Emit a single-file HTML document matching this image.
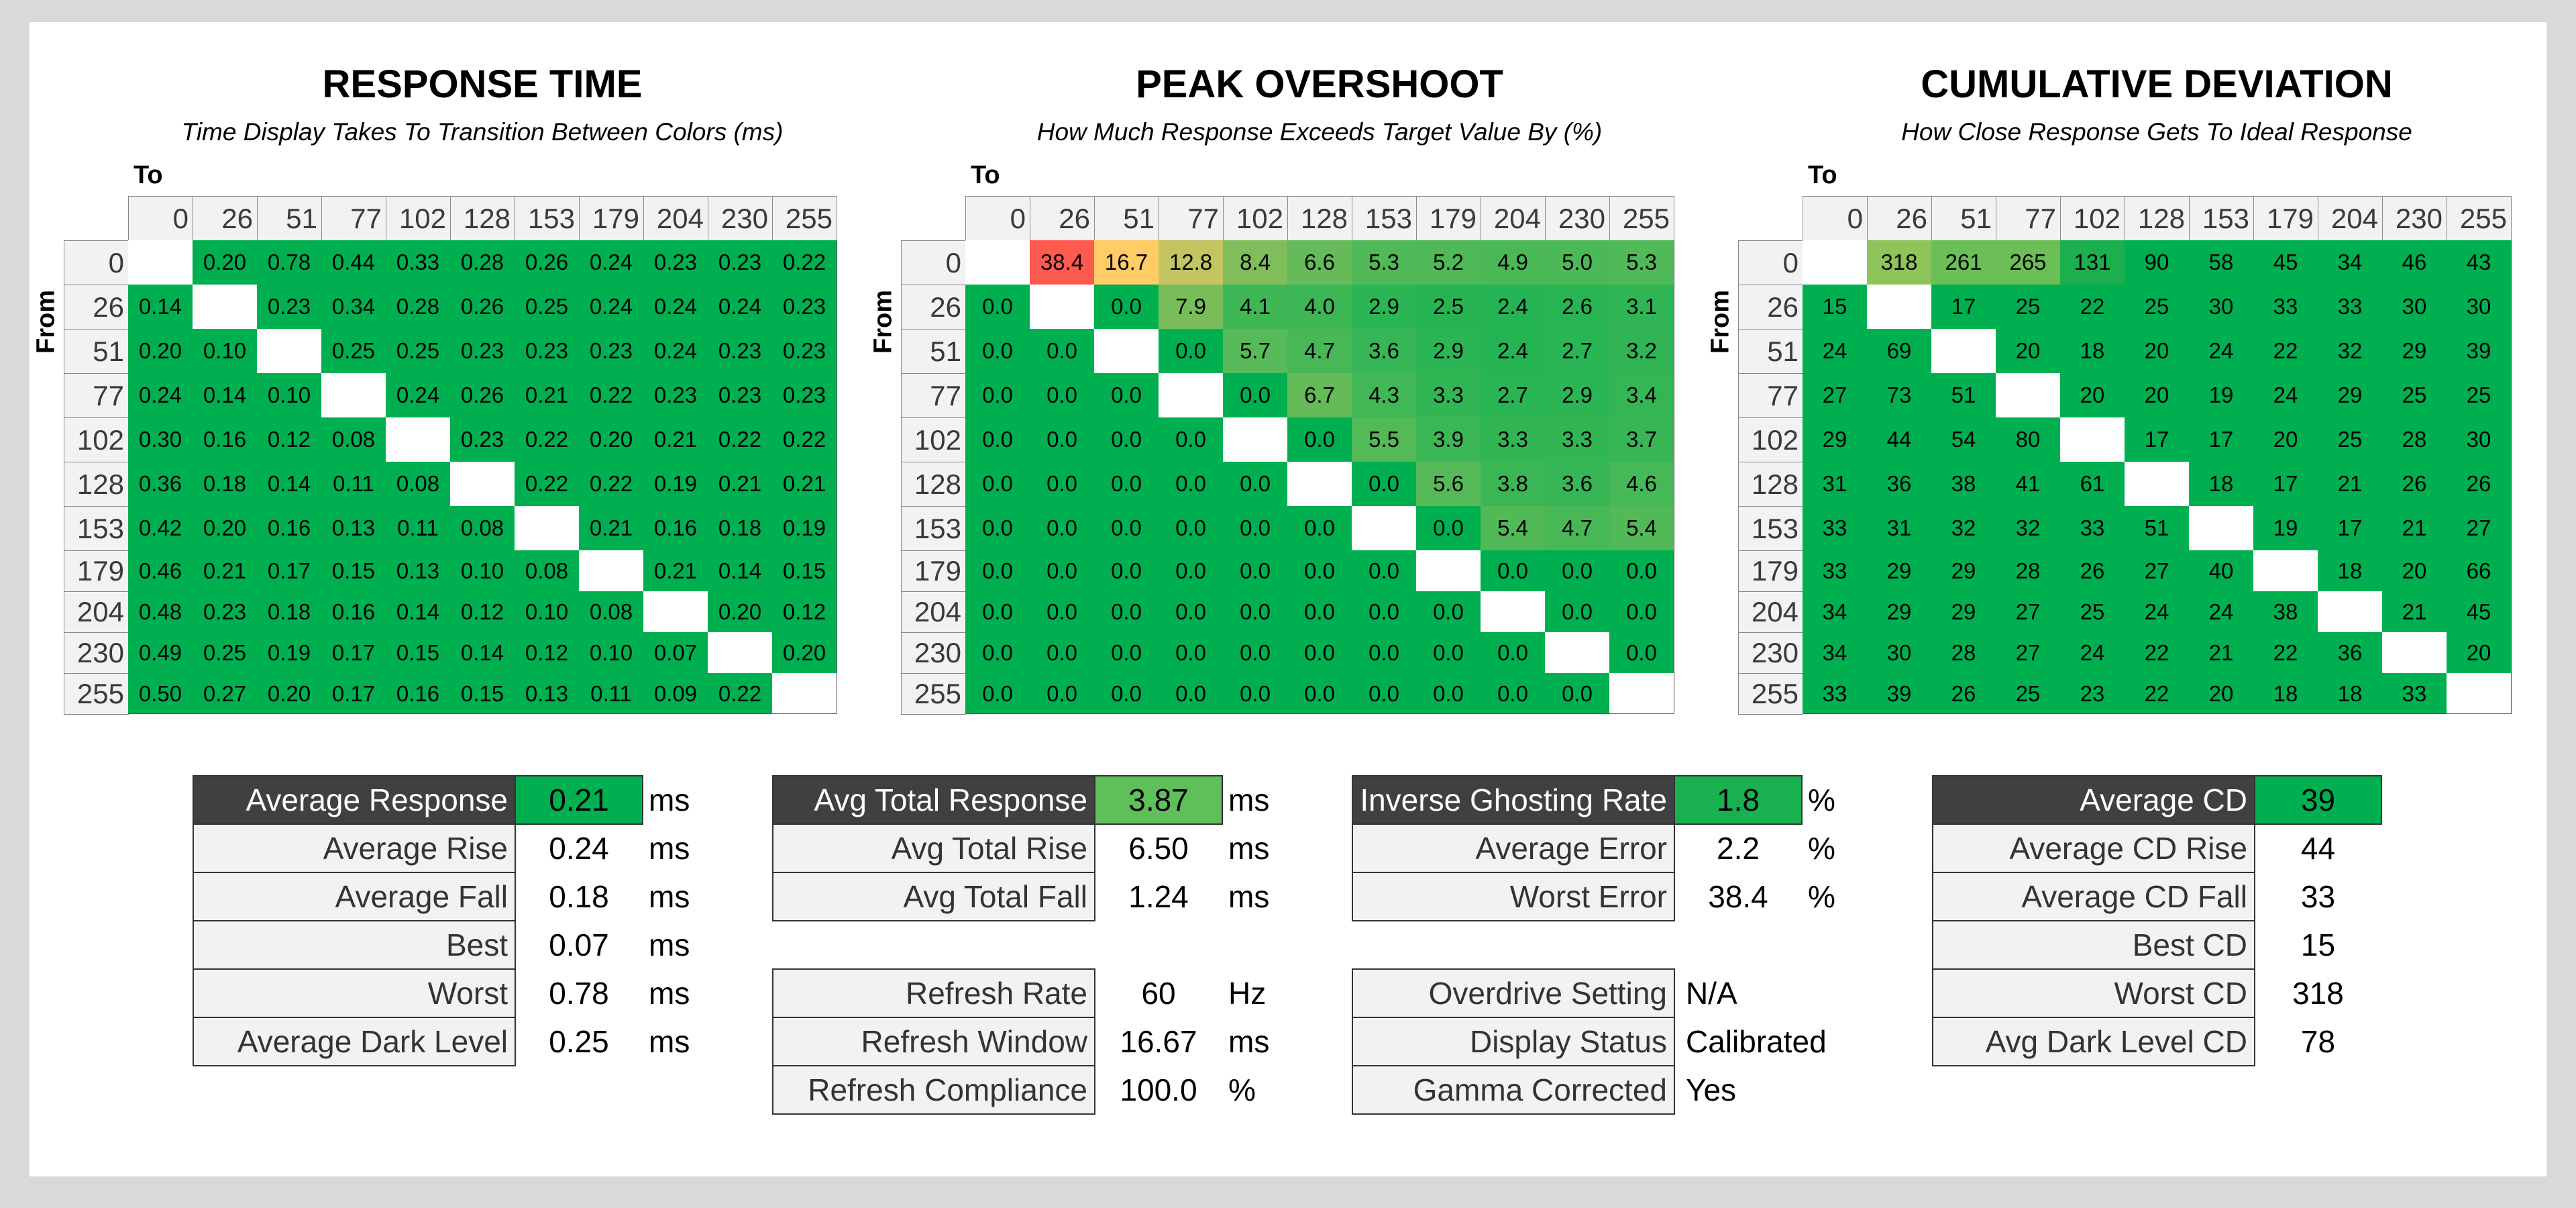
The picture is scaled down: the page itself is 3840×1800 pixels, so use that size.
<!DOCTYPE html>
<html><head><meta charset="utf-8">
<style>
*{margin:0;padding:0;box-sizing:border-box}
body{width:3840px;height:1800px;background:#d9d9d9;position:relative;overflow:hidden;font-family:"Liberation Sans Narrow","Liberation Sans",sans-serif}
#panel{position:absolute;left:44px;top:33px;width:3752px;height:1720px;background:#fff}
.a{position:absolute}
.title{font-weight:bold;font-size:58px;color:#000;text-align:center;width:1400px;top:92px}
.sub{font-style:italic;font-size:37px;text-align:center;width:1400px;top:176px;color:#000}
.to{font-size:38px;top:240px;font-weight:bold}
.from{font-size:38px;font-weight:bold;transform:rotate(-90deg);transform-origin:center;width:120px;text-align:center}
.c{position:absolute;display:flex;align-items:center;justify-content:center;font-size:33px;color:#000}
.h{background:#f2f2f2;color:#3a3a3a;font-size:42px;justify-content:flex-end;padding-right:6px;border:1.5px solid #8a8a8a}
.sl{position:absolute;background:#f2f2f2;border:2px solid #333;color:#333;font-size:46px;display:flex;align-items:center;justify-content:flex-end;padding-right:10px}
.sl.d{background:#404040;color:#fff}
.sv{position:absolute;font-size:46px;display:flex;align-items:center;justify-content:center;color:#000}
.su{position:absolute;font-size:46px;display:flex;align-items:center;color:#000}
</style></head><body>
<div id="root"></div>
<script>
const R=document.getElementById('root');
function el(cls,st,txt){const d=document.createElement('div');d.className=cls;Object.assign(d.style,st);if(txt!==undefined)d.textContent=txt;R.appendChild(d);return d;}
document.body.insertBefore(Object.assign(document.createElement('div'),{id:'panel'}),R);
const hd=[0,26,51,77,102,128,153,179,204,230,255];
const RT=[[null,.20,.78,.44,.33,.28,.26,.24,.23,.23,.22],[.14,null,.23,.34,.28,.26,.25,.24,.24,.24,.23],[.20,.10,null,.25,.25,.23,.23,.23,.24,.23,.23],[.24,.14,.10,null,.24,.26,.21,.22,.23,.23,.23],[.30,.16,.12,.08,null,.23,.22,.20,.21,.22,.22],[.36,.18,.14,.11,.08,null,.22,.22,.19,.21,.21],[.42,.20,.16,.13,.11,.08,null,.21,.16,.18,.19],[.46,.21,.17,.15,.13,.10,.08,null,.21,.14,.15],[.48,.23,.18,.16,.14,.12,.10,.08,null,.20,.12],[.49,.25,.19,.17,.15,.14,.12,.10,.07,null,.20],[.50,.27,.20,.17,.16,.15,.13,.11,.09,.22,null]];
const OS=[[null,38.4,16.7,12.8,8.4,6.6,5.3,5.2,4.9,5.0,5.3],[0,null,0,7.9,4.1,4.0,2.9,2.5,2.4,2.6,3.1],[0,0,null,0,5.7,4.7,3.6,2.9,2.4,2.7,3.2],[0,0,0,null,0,6.7,4.3,3.3,2.7,2.9,3.4],[0,0,0,0,null,0,5.5,3.9,3.3,3.3,3.7],[0,0,0,0,0,null,0,5.6,3.8,3.6,4.6],[0,0,0,0,0,0,null,0,5.4,4.7,5.4],[0,0,0,0,0,0,0,null,0,0,0],[0,0,0,0,0,0,0,0,null,0,0],[0,0,0,0,0,0,0,0,0,null,0],[0,0,0,0,0,0,0,0,0,0,null]];
const CD=[[null,318,261,265,131,90,58,45,34,46,43],[15,null,17,25,22,25,30,33,33,30,30],[24,69,null,20,18,20,24,22,32,29,39],[27,73,51,null,20,20,19,24,29,25,25],[29,44,54,80,null,17,17,20,25,28,30],[31,36,38,41,61,null,18,17,21,26,26],[33,31,32,32,33,51,null,19,17,21,27],[33,29,29,28,26,27,40,null,18,20,66],[34,29,29,27,25,24,24,38,null,21,45],[34,30,28,27,24,22,21,22,36,null,20],[33,39,26,25,23,22,20,18,18,33,null]];
function lerp(a,b,t){return a.map((x,i)=>Math.round(x+(b[i]-x)*t));}
function osCol(v){const g=[0,176,80],y=[255,204,102],r=[255,90,80];let c;if(v<=16.7)c=lerp(g,y,v/16.7);else c=lerp(y,r,Math.min(1,(v-16.7)/21.7));return `rgb(${c})`;}
function cdCol(v){const m={318:'#8fc45a',261:'#6cbf57',265:'#6cbf57',131:'#1caf4e'};return m[v]||'#00b050';}
const rowY=[358];for(let i=0;i<11;i++)rowY.push(rowY[i]+(i<7?66:61));
function table(dx,data,fmt,col,title,sub){
  const cx=dx+528;
  el('a title',{left:(cx-700)+'px'},title);
  el('a sub',{left:(cx-700)+'px'},sub);
  el('a to',{left:(dx+8)+'px'},'To');
  el('a from',{left:(dx-96-86)+'px',top:(rowY[0]+100)+'px'},'From');
  for(let j=0;j<11;j++){el('c h',{left:(dx+j*96)+'px',top:'292px',width:'97px',height:'67px'},hd[j]);}
  for(let i=0;i<11;i++){
    el('c h',{left:(dx-96)+'px',top:rowY[i]+'px',width:'97px',height:(rowY[i+1]-rowY[i]+1)+'px'},hd[i]);
    for(let j=0;j<11;j++){const v=data[i][j];
      el('c',{left:(dx+j*96)+'px',top:rowY[i]+'px',width:'96px',height:(rowY[i+1]-rowY[i])+'px',background:v===null?'#fff':col(v)},v===null?'':fmt(v));}
  }
  el('a',{left:dx+'px',top:'358px',width:'1057px',height:(rowY[11]-358)+'px',border:'1.5px solid #555',borderTop:'none',borderLeft:'none'});
}
table(191,RT,v=>v.toFixed(2),()=>'#00b050','RESPONSE TIME','Time Display Takes To Transition Between Colors (ms)');
table(1439,OS,v=>v.toFixed(1),osCol,'PEAK OVERSHOOT','How Much Response Exceeds Target Value By (%)');
table(2687,CD,v=>String(v),cdCol,'CUMULATIVE DEVIATION','How Close Response Gets To Ideal Response');
function box(lx,vx,ux,rows){
  rows.forEach((r,i)=>{if(!r)return;const y=1155+i*72;
    el('sl'+(i==0?' d':''),{left:lx+'px',top:y+'px',width:(vx-lx+2)+'px',height:'74px'},r[0]);
    const s={left:vx+'px',top:y+'px',width:(ux-vx)+'px',height:'74px'};
    if(i==0){s.background=r[3];s.border='2px solid #333';}
    if(r[4]){s.justifyContent='flex-start';s.paddingLeft='18px';s.width='400px';}
    el('sv',s,r[1]);
    if(r[2])el('su',{left:(ux+8)+'px',top:y+'px',height:'74px'},r[2]);
  });
}
box(287,767,959,[['Average Response','0.21','ms','#00b050'],['Average Rise','0.24','ms'],['Average Fall','0.18','ms'],['Best','0.07','ms'],['Worst','0.78','ms'],['Average Dark Level','0.25','ms']]);
box(1151,1631,1823,[['Avg Total Response','3.87','ms','#5fbf5a'],['Avg Total Rise','6.50','ms'],['Avg Total Fall','1.24','ms'],null,['Refresh Rate','60','Hz'],['Refresh Window','16.67','ms'],['Refresh Compliance','100.0','%']]);
box(2015,2495,2687,[['Inverse Ghosting Rate','1.8','%','#19b050'],['Average Error','2.2','%'],['Worst Error','38.4','%'],null,['Overdrive Setting','N/A','',null,1],['Display Status','Calibrated','',null,1],['Gamma Corrected','Yes','',null,1]]);
box(2880,3360,3551,[['Average CD','39','','#00b050'],['Average CD Rise','44',''],['Average CD Fall','33',''],['Best CD','15',''],['Worst CD','318',''],['Avg Dark Level CD','78','']]);
</script>
</body></html>
